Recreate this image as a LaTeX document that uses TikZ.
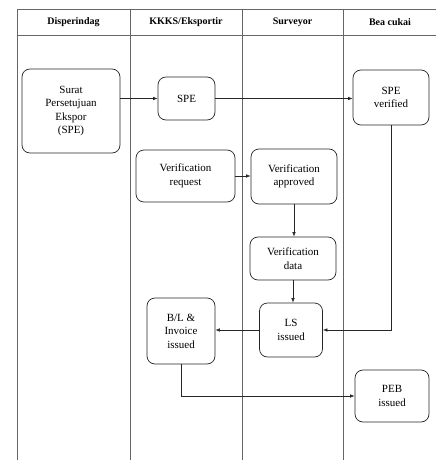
\documentclass[tikz,border=0pt]{standalone}
\usepackage{fontspec}
\setmainfont{Liberation Serif}
\usetikzlibrary{arrows.meta}
\begin{document}
\begin{tikzpicture}[x=1pt,y=-1pt,
  lane/.style={draw=black!60,line width=0.8pt},
  box/.style={draw=black!85,line width=0.7pt,rounded corners=8pt,align=center,
    inner sep=1pt,font=\fontsize{11}{13.5}\selectfont},
  head/.style={font=\bfseries\fontsize{10}{12}\selectfont},
  arr/.style={draw=black!85,line width=0.6pt,-{Latex[length=4.5pt,width=3.5pt]}}]
\useasboundingbox (0,0) rectangle (436,460);
\fill[white] (0,0) rectangle (436,460);
% table
\draw[lane] (17,460) -- (17,9) -- (436,9);
\draw[lane] (17,35) -- (436,35);
\draw[lane] (130,9) -- (130,460);
\draw[lane] (242,9) -- (242,460);
\draw[lane] (343,9) -- (343,460);
\node[head] (h1) at (73.5,22) {Disperindag};
\node[head] (h2) at (186,22) {KKKS/Eksportir};
\node[head] (h3) at (292.5,22) {Surveyor};
\node[head] (h4) at (390,22) {Bea cukai};
% boxes
\node[box,minimum width=98pt,minimum height=84pt] (surat) at (71,111) {Surat\\Persetujuan\\Ekspor\\(SPE)};
\node[box,minimum width=57pt,minimum height=43pt] (spe) at (186.5,98.5) {SPE};
\node[box,minimum width=76pt,minimum height=55pt] (sper) at (391,97.5) {SPE\\verified};
\node[box,minimum width=99pt,minimum height=52pt] (vreq) at (185.5,176) {Verification\\request};
\node[box,minimum width=86pt,minimum height=55pt] (vapp) at (294,176.5) {Verification\\approved};
\node[box,minimum width=86pt,minimum height=43pt] (vdata) at (293,258.5) {Verification\\data};
\node[box,minimum width=63pt,minimum height=54pt] (ls) at (291,330) {LS\\issued};
\node[box,minimum width=68pt,minimum height=66pt] (bl) at (181,331) {B/L \&\\Invoice\\issued};
\node[box,minimum width=74pt,minimum height=52pt] (peb) at (392,396) {PEB\\issued};
% connectors
\draw[arr] (surat.east |- spe.west) -- (spe.west);
\draw[arr] (spe.east) -- (spe.east -| sper.west);
\draw[arr] (sper.south) -- (sper.south |- ls.east) -- (ls.east);
\draw[arr] (vreq.east) -- (vreq.east -| vapp.west);
\draw[arr] (vapp.south) -- (vapp.south |- vdata.north);
\draw[arr] (vdata.south) -- (vdata.south |- ls.north);
\draw[arr] (ls.west) -- (ls.west -| bl.east);
\draw[arr] (bl.south) -- (bl.south |- peb.west) -- (peb.west);
\end{tikzpicture}
\end{document}
